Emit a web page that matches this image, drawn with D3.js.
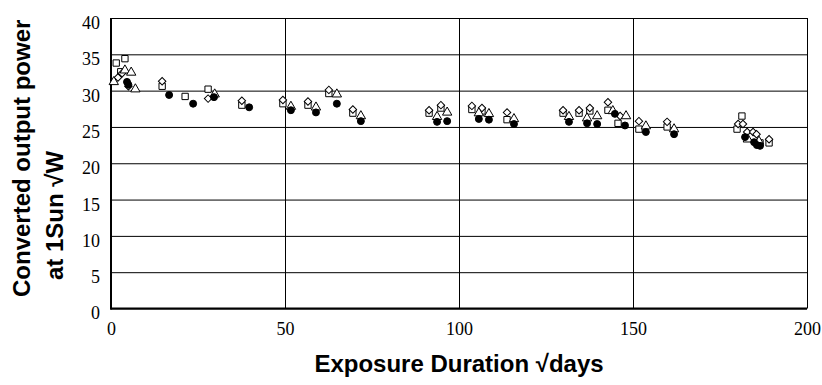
<!DOCTYPE html>
<html>
<head>
<meta charset="utf-8">
<script src="https://cdn.jsdelivr.net/npm/d3@7"></script>
<style>
  body { margin: 0; background: #fff; }
  svg text { fill: #000; }
  .tick text { font-family: "Liberation Serif", "Times New Roman", serif; font-size: 18px; }
  .title { font-family: "Liberation Sans", Arial, sans-serif; font-size: 24px; font-weight: bold; }
</style>
</head>
<body>
<div id="chart"></div>
<script>
// [day, converted output power]
const squares = [
  [1.5, 33.8], [4, 34.4], [2.8, 32.6], [14.7, 30.6], [21.3, 29.2], [27.9, 30.2],
  [37.6, 28.0], [49.4, 28.2], [56.6, 28.0], [62.6, 29.6], [69.5, 26.9],
  [91.4, 26.9], [94.8, 27.6], [103.7, 27.4], [106.6, 27.2], [113.8, 26.0],
  [129.9, 26.9], [134.5, 26.9], [137.6, 27.2], [142.8, 27.3], [145.7, 25.5],
  [151.7, 24.7], [159.8, 25.0], [181.3, 26.5], [179.9, 24.7], [186.5, 22.8], [189.1, 22.8]
];
const diamonds = [
  [2, 31.8], [3.2, 32.4], [5, 30.6], [14.7, 31.3], [27.9, 28.9], [37.6, 28.6],
  [49.4, 28.7], [56.6, 28.5], [62.6, 30.1], [69.5, 27.4], [91.4, 27.3],
  [94.8, 28.0], [103.7, 27.9], [106.6, 27.6], [113.8, 27.0], [129.9, 27.3],
  [134.5, 27.3], [137.6, 27.6], [142.8, 28.4], [146.3, 26.5], [151.7, 25.8],
  [159.8, 25.7], [180.2, 25.4], [181.6, 25.4], [182.8, 24.3], [184.5, 24.3],
  [185.5, 24.0], [189.1, 23.3]
];
const triangles = [
  [0.8, 31.2], [4, 32.8], [5.8, 32.5], [7, 30.2], [29.8, 29.5], [51.7, 27.8],
  [58.9, 27.7], [64.9, 29.5], [71.8, 26.5], [93.7, 26.4], [96.6, 27.0],
  [105.7, 26.9], [108.6, 26.8], [115.8, 26.1], [131.6, 26.4], [136.8, 26.2],
  [139.7, 26.5], [144.2, 27.2], [148, 26.5], [153.7, 25.1], [161.8, 24.7],
  [183, 23.3], [186.2, 23.0]
];
const circles = [
  [4.6, 31.2], [5, 30.8], [16.7, 29.4], [23.6, 28.2], [29.6, 29.1], [39.7, 27.7],
  [51.7, 27.3], [58.9, 27.0], [64.9, 28.2], [71.8, 25.8], [93.7, 25.7],
  [96.6, 25.8], [105.7, 26.1], [108.6, 26.0], [115.8, 25.4], [131.6, 25.7],
  [136.8, 25.5], [139.7, 25.4], [144.8, 26.8], [147.7, 25.2], [153.7, 24.3],
  [161.8, 24.0], [182.2, 23.6], [184.8, 22.9], [185.6, 22.5], [186.5, 22.4]
];
const xTicks = [0, 50, 100, 150, 200];
const yTicks = [0, 5, 10, 15, 20, 25, 30, 35, 40];

const W = 822, H = 385;
const plotLeft = 111, plotRight = 807, plotTop = 18, plotBottom = 308.5;

const svg = d3.select("#chart").append("svg")
  .attr("width", W)
  .attr("height", H);

const x = d3.scaleLinear().domain([0, 200]).range([plotLeft, plotRight]);
const y = d3.scaleLinear().domain([0, 40]).range([plotBottom, plotTop]);

// horizontal grid + y labels
const yAxis = svg.append("g")
  .attr("transform", "translate(" + plotLeft + ",0)")
  .call(d3.axisLeft(y).tickValues(yTicks).tickSize(-(plotRight - plotLeft)).tickPadding(11));
yAxis.select(".domain").remove();
yAxis.selectAll(".tick line").attr("stroke", "#000").attr("stroke-width", 1);
yAxis.selectAll(".tick text").attr("dy", "0.58em");

// vertical grid + x labels
const xAxis = svg.append("g")
  .attr("transform", "translate(0," + plotBottom + ")")
  .call(d3.axisBottom(x).tickValues(xTicks).tickSize(-(plotBottom - plotTop)).tickPadding(14));
xAxis.select(".domain").remove();
xAxis.selectAll(".tick line").attr("stroke", "#000").attr("stroke-width", 1);
xAxis.selectAll(".tick text").attr("dy", "0.71em");

// heavier left and bottom axis lines
svg.append("line").attr("x1", plotLeft).attr("x2", plotLeft).attr("y1", plotTop).attr("y2", plotBottom + 1)
  .attr("stroke", "#000").attr("stroke-width", 2);
svg.append("line").attr("x1", plotLeft - 1).attr("x2", plotRight).attr("y1", plotBottom).attr("y2", plotBottom)
  .attr("stroke", "#000").attr("stroke-width", 2);

// markers
function drawSeries(data, type, size, fill, rot) {
  svg.append("g").selectAll("path")
    .data(data)
    .enter().append("path")
    .attr("d", d3.symbol().type(type).size(size))
    .attr("transform", function(d) {
      return "translate(" + x(d[0]) + "," + y(d[1]) + ")" + (rot ? " rotate(45)" : "");
    })
    .attr("fill", fill)
    .attr("stroke", "#000")
    .attr("stroke-width", 1);
}
drawSeries(squares, d3.symbolSquare, 40, "#fff", false);
drawSeries(diamonds, d3.symbolSquare, 28, "#fff", true);
drawSeries(triangles, d3.symbolTriangle, 38, "#fff", false);
drawSeries(circles, d3.symbolCircle, 38, "#000", false);

// titles
svg.append("text")
  .attr("class", "title")
  .attr("text-anchor", "middle")
  .attr("x", (plotLeft + plotRight) / 2)
  .attr("y", 372)
  .text("Exposure Duration \u221Adays");

svg.append("text")
  .attr("class", "title")
  .attr("text-anchor", "start")
  .attr("transform", "translate(30,297) rotate(-90)")
  .text("Converted output power");

svg.append("text")
  .attr("class", "title")
  .attr("text-anchor", "start")
  .attr("transform", "translate(63,280) rotate(-90)")
  .text("at 1Sun  \u221AW");
</script>
</body>
</html>
